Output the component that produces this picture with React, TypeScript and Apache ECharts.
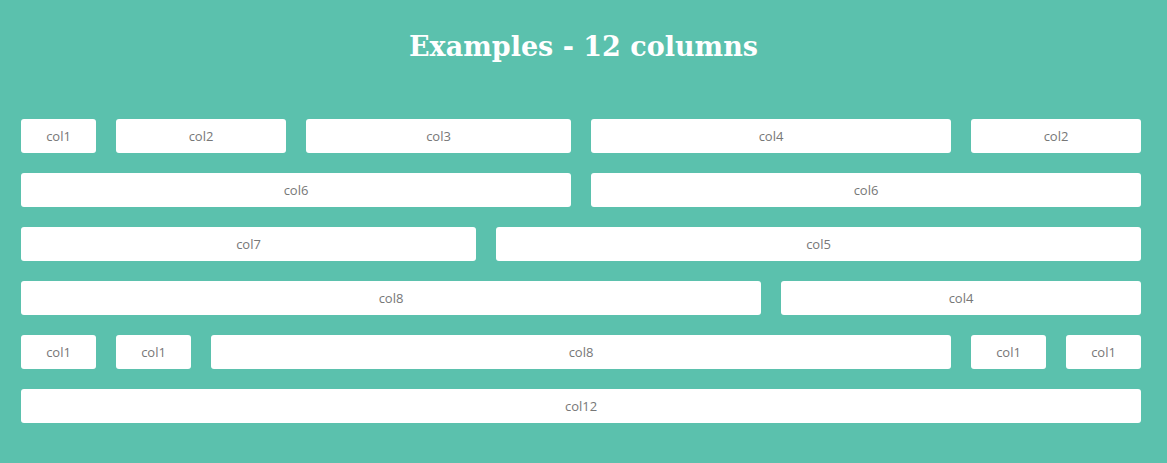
import React, { useEffect, useRef } from 'react';
import * as echarts from 'echarts';

const rows = ['row1', 'row2', 'row3', 'row4', 'row5', 'row6'];
const rowSpans = [
  [1, 2, 3, 4, 2],
  [6, 6],
  [5, 7],
  [8, 4],
  [1, 1, 8, 1, 1],
  [12],
];
const rowLabels = [
  ['col1', 'col2', 'col3', 'col4', 'col2'],
  ['col6', 'col6'],
  ['col7', 'col5'],
  ['col8', 'col4'],
  ['col1', 'col1', 'col8', 'col1', 'col1'],
  ['col12'],
];

const App: React.FC = () => {
  const chartRef = useRef<HTMLDivElement>(null);

  useEffect(() => {
    document.body.style.margin = '0';
    if (!chartRef.current) return;
    const chart = echarts.init(chartRef.current, null, { renderer: 'svg' });

    // [row, start, span, label]
    const data: any[] = [];
    rowSpans.forEach((spans, r) => {
      let start = 0;
      spans.forEach((s, i) => {
        data.push([r, start, s, rowLabels[r][i]]);
        start += s;
      });
    });

    chart.setOption({
      animation: false,
      backgroundColor: '#5bc1ad',
      title: {
        text: 'Examples - 12 columns',
        left: 'center',
        top: 28,
        textStyle: { color: '#fff', fontSize: 27, fontWeight: 'bold', fontFamily: 'DejaVu Serif' },
      },
      grid: { left: 21, right: 6, top: 109, bottom: 30 },
      xAxis: { type: 'value', min: 0, max: 12, show: false },
      yAxis: { type: 'category', data: rows, inverse: true, show: false },
      series: [
        {
          type: 'custom',
          data,
          encode: { x: 1, y: 0 },
          renderItem: (params: any, api: any) => {
            const r = api.value(0);
            const start = api.value(1);
            const span = api.value(2);
            const label = data[params.dataIndex][3];
            const p = api.coord([start, r]);
            const unit = api.size([1, 0])[0];
            const w = span * unit - 20;
            const h = 34;
            return {
              type: 'group',
              children: [
                {
                  type: 'rect',
                  shape: { x: p[0], y: p[1] - h / 2, width: w, height: h, r: 3 },
                  style: { fill: '#fff' },
                },
                {
                  type: 'text',
                  x: p[0] + w / 2,
                  y: p[1],
                  style: {
                    text: label,
                    fill: '#777',
                    fontSize: 13,
                    fontFamily: 'Open Sans',
                    align: 'center',
                    verticalAlign: 'middle',
                  },
                },
              ],
            };
          },
        },
      ],
    });

    return () => chart.dispose();
  }, []);

  return <div ref={chartRef} style={{ width: 1167, height: 463 }} />;
};

export default App;
